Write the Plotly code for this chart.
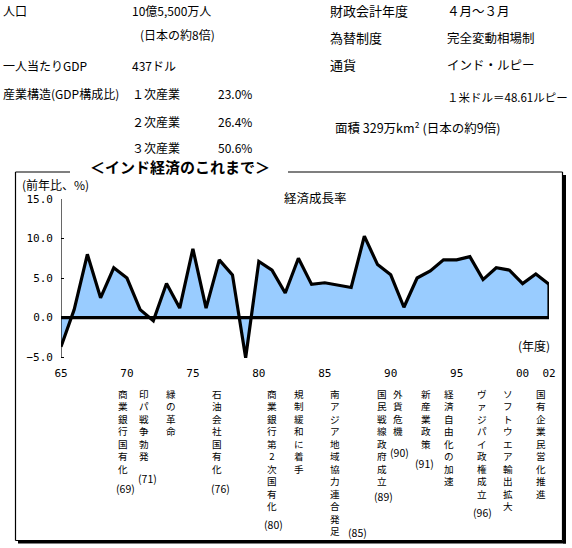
import plotly.graph_objects as go

# ---------------- data ----------------
years = list(range(65, 103))  # 1965 .. 2002 (fiscal years)
growth = [-3.7, 1.0, 8.0, 2.5, 6.3, 5.0, 1.0, -0.4, 4.3, 1.2,
          8.7, 1.2, 7.3, 5.4, -5.1, 7.1, 6.0, 3.1, 7.5, 4.2,
          4.4, 4.1, 3.8, 10.3, 6.7, 5.4, 1.3, 5.0, 5.9, 7.3,
          7.3, 7.7, 4.8, 6.3, 6.0, 4.3, 5.5, 4.2]
x_tickvals = [65, 70, 75, 80, 85, 90, 95, 100, 102]
x_ticktext = ["65", "70", "75", "80", "85", "90", "95", "00", "02"]
y_tickvals = [-5, 0, 5, 10, 15]

event_texts = ["商業銀行国有化", "印パ戦争勃発", "緑の革命", "石油会社国有化",
               "商業銀行第2次国有化", "規制緩和に着手", "南アジア地域協力連合発足",
               "国民戦線政府成立", "外貨危機", "新産業政策", "経済自由化の加速",
               "ヴァジパイ政権成立", "ソフトウエア輸出拡大", "国有企業民営化推進"]
event_notes = ["(69)", "(71)", "", "(76)", "(80)", "", "(85)",
               "(89)", "(90)", "(91)", "", "(96)", "", ""]

info_left = [("人口", "10億5,500万人", ""),
             ("", "(日本の約8倍)", ""),
             ("一人当たりGDP", "437ドル", ""),
             ("産業構造(GDP構成比)", "１次産業", "23.0%"),
             ("", "２次産業", "26.4%"),
             ("", "３次産業", "50.6%")]
info_right = [("財政会計年度", "４月～３月"),
              ("為替制度", "完全変動相場制"),
              ("通貨", "インド・ルピー"),
              ("", "１米ドル＝48.61ルピー")]
area_text = "面積 329万km² (日本の約9倍)"

# ---------------- layout helpers ----------------
W, H = 572, 548
PL, PR, PT, PB = 61, 549, 199, 361   # plot area in pixels
def px(x):
    return (x - PL) / (PR - PL)
def py(y):
    return (PB - y) / (PB - PT)

FONT = "Noto Sans CJK JP"

fig = go.Figure()
fig.add_trace(go.Scatter(
    x=years, y=growth, mode="lines", fill="tozeroy",
    fillcolor="#99CCFF", line=dict(color="black", width=3.2),
    hoverinfo="skip", showlegend=False))

shapes = []
annotations = []

# zero line and y axis line, right closing edge
shapes.append(dict(type="line", xref="x", yref="y", x0=years[0], x1=years[-1],
                   y0=0, y1=0, line=dict(color="black", width=3.2), layer="above"))
shapes.append(dict(type="line", xref="x", yref="y", x0=years[0], x1=years[0],
                   y0=-5, y1=15, line=dict(color="black", width=1.2), layer="above"))
shapes.append(dict(type="line", xref="x", yref="y", x0=years[-1], x1=years[-1],
                   y0=0, y1=growth[-1], line=dict(color="black", width=3.2), layer="above"))

# frame (with gap for title) and shadow
def pline(x0, y0, x1, y1, w=1.2):
    shapes.append(dict(type="line", xref="paper", yref="paper",
                       x0=px(x0), y0=py(y0), x1=px(x1), y1=py(y1),
                       line=dict(color="black", width=w)))
def prect(x0, y0, x1, y1):
    shapes.append(dict(type="rect", xref="paper", yref="paper",
                       x0=px(x0), y0=py(y0), x1=px(x1), y1=py(y1),
                       fillcolor="black", line=dict(width=0)))
pline(15.5, 172, 15.5, 540.5)
pline(15.5, 540.5, 562.5, 540.5)
pline(562.5, 172, 562.5, 540.5)
pline(15.5, 172, 70, 172)
pline(288, 172, 562.5, 172)
prect(563, 175, 566, 543.5)
prect(18, 540.5, 566, 543.5)

def ann(text, x, y, size=12, xanchor="left", bold=False, yanchor="middle"):
    annotations.append(dict(text=("<b>%s</b>" % text) if bold else text,
                            xref="paper", yref="paper", x=px(x), y=py(y),
                            xanchor=xanchor, yanchor=yanchor, showarrow=False,
                            align="center", borderpad=0,
                            font=dict(family=FONT, size=size, color="black")))

# info block
left_rows_y = [10, 34, 65, 93, 121, 147]
for (a, b, c), yy in zip(info_left, left_rows_y):
    if a:
        ann(a, 2, yy, 12)
    if b:
        ann(b, 131 if not b.startswith("(") else 139, yy, 12)
    if c:
        ann(c, 217, yy, 12)
right_rows_y = [10, 37, 64, 97]
for (a, b), yy in zip(info_right, right_rows_y):
    if a:
        ann(a, 329, yy, 13)
    ann(b, 446, yy, 12.5 if yy < 90 else 11.5)
ann(area_text, 334, 127, 12.5)

# title
ann("＜インド経済のこれまで＞", 180, 166, 15, xanchor="center", bold=True)

# chart labels
ann("(前年比、%)", 21, 184, 12)
ann("経済成長率", 283, 197, 12.5)
ann("(年度)", 517, 345, 12)

# vertical event labels (one character per line)
event_x = [123, 144, 171, 217, 272, 299, 335, 382, 398, 426, 449, 482, 508, 541]
note_pos = [(125, 488), (147, 478), None, (220, 488), (273, 524), None, (357, 532),
            (383, 496), (399, 452), (424, 463), None, (482, 512), None, None]
for txt, note, ex, npos in zip(event_texts, event_notes, event_x, note_pos):
    ann("<br>".join(txt), ex, 386, 9.6, xanchor="center", yanchor="top")
    if note and npos:
        ann(note, npos[0], npos[1], 10.5, xanchor="center")

fig.update_layout(
    width=W, height=H,
    margin=dict(l=PL, r=W - PR, t=PT, b=H - PB, pad=0),
    paper_bgcolor="white", plot_bgcolor="white",
    shapes=shapes, annotations=annotations,
    xaxis=dict(range=[years[0], years[-1]], tickvals=x_tickvals, ticktext=x_ticktext,
               showgrid=False, zeroline=False, showline=False, ticks="",
               ticklabelstandoff=4,
               tickfont=dict(family="DejaVu Sans Mono", size=11, color="black")),
    yaxis=dict(range=[-5.5, 15], tickvals=y_tickvals, tickformat=".1f",
               showgrid=False, zeroline=False, showline=False,
               ticks="inside", ticklen=3, tickcolor="black", tickwidth=1.2,
               ticklabelstandoff=7,
               tickfont=dict(family="DejaVu Sans Mono", size=11, color="black")),
    font=dict(family=FONT, color="black"),
)

fig.write_html("out.html")
